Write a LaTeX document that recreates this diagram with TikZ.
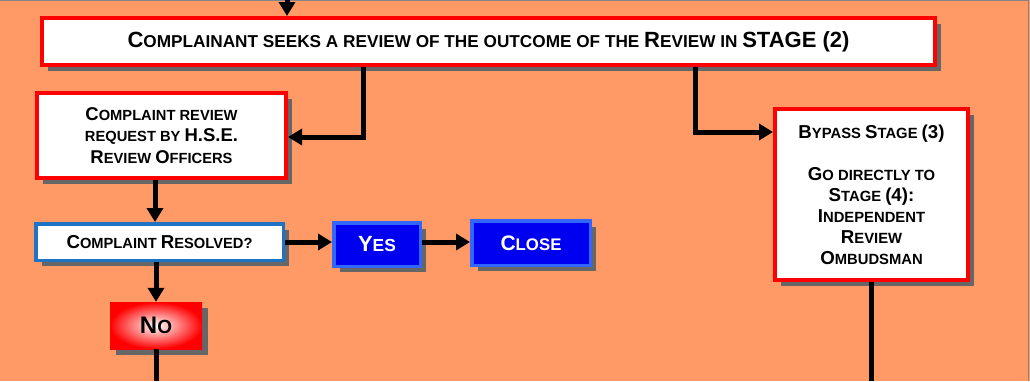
\documentclass[tikz,border=0pt]{standalone}
\usepackage{fontspec}
\setmainfont{Liberation Sans}
\usetikzlibrary{arrows.meta,shadows}
\definecolor{bg}{HTML}{FF9966}
\definecolor{shadowgray}{HTML}{666666}
\definecolor{rb}{HTML}{FF0000}
\definecolor{qblue}{HTML}{1F73C4}
\definecolor{bfill}{HTML}{0000F0}
\definecolor{bborder}{HTML}{3366FF}
\def\bigsz{16}
\newcommand\U[1]{{\fontsize{\bigsz}{21}\selectfont #1}}
\tikzset{
  shad/.style={drop shadow={shadow xshift=6pt, shadow yshift=-6pt, fill=shadowgray, opacity=1}},
  redbox/.style={draw=rb, line width=4pt, fill=white, inner sep=0pt, align=center, shad},
  qbox/.style={draw=qblue, line width=3.5pt, fill=white, inner sep=0pt, align=center, shad},
  bluebox/.style={draw=bborder, line width=3.5pt, fill=bfill, text=white, inner sep=0pt, align=center, shad},
  nobox/.style={inner sep=0pt, align=center, shad, shading=radial, inner color=white, outer color=rb},
  conn/.style={line width=5pt, -{Triangle[length=14pt,width=16pt]}},
  plain/.style={line width=5pt},
}
\begin{document}
\begin{tikzpicture}[x=1pt,y=-1pt]
\useasboundingbox (0,0) rectangle (1030,381);
\fill[bg] (0,0) rectangle (1030,381);
\draw[shadowgray!80, line width=1.2pt] (0,0.6) -- (1028.4,0.6) -- (1028.4,381);

\node[redbox, minimum width=893pt, minimum height=47pt,
  font={\def\bigsz{22}\bfseries\fontsize{17.2}{21}\selectfont}] (top) at (488.5,41.5)
  {\U{C}OMPLAINANT SEEKS A REVIEW OF THE OUTCOME OF THE \U{R}EVIEW IN \U{STAGE (2)}};

\node[redbox, minimum width=249pt, minimum height=85pt,
  font={\def\bigsz{18.5}\bfseries\fontsize{14.7}{21.5}\selectfont}] (b2) at (161.5,135.5)
  {\U{C}OMPLAINT REVIEW\\ REQUEST BY \U{H.S.E.}\\ \U{R}EVIEW \U{O}FFICERS};

\node[qbox, minimum width=247.5pt, minimum height=36.5pt,
  font={\def\bigsz{18.7}\bfseries\fontsize{14.7}{21}\selectfont}] (b3) at (159.5,242)
  {\U{C}OMPLAINT \U{R}ESOLVED?};

\node[bluebox, minimum width=86.5pt, minimum height=43.5pt,
  font={\def\bigsz{22}\bfseries\fontsize{17.4}{21}\selectfont}] (yes) at (377,244.5)
  {\U{Y}ES};

\node[bluebox, minimum width=118.5pt, minimum height=44.5pt,
  font={\def\bigsz{21}\bfseries\fontsize{16.8}{21}\selectfont}] (close) at (531,243)
  {\U{C}LOSE};

\node[nobox, minimum width=92pt, minimum height=47pt,
  font={\def\bigsz{24}\bfseries\fontsize{19}{21}\selectfont}] (no) at (156,325.5)
  {\U{N}O};

\node[redbox, minimum width=193pt, minimum height=171pt,
  font={\def\bigsz{18.7}\bfseries\fontsize{14.8}{21}\selectfont}] (bp) at (871.5,194.5)
  {\U{B}YPASS \U{S}TAGE \U{(3)}\\[21pt] \U{G}O DIRECTLY TO\\ \U{S}TAGE \U{(4):}\\ \U{I}NDEPENDENT\\ \U{R}EVIEW\\ \U{O}MBUDSMAN};

\coordinate (in) at (287,0);
\coordinate (j1) at (363,137);
\coordinate (j2) at (695,132);
\coordinate (v1) at (155,0);
\coordinate (v2) at (156,0);
\coordinate (bot1) at (156,381);
\coordinate (bot2) at (871,381);

\draw[conn] (in) -- (in |- top.north);
\draw[conn] (j1 |- top.south) -- (j1) -- (j1 -| b2.east);
\draw[conn] (j2 |- top.south) -- (j2) -- (j2 -| bp.west);
\draw[conn] (v1 |- b2.south) -- (v1 |- b3.north);
\draw[conn] (b3.east) -- (b3.east -| yes.west);
\draw[conn] (yes.east |- b3.east) -- (b3.east -| close.west);
\draw[conn] (v2 |- b3.south) -- (v2 |- no.north);
\draw[plain] (no.south) -- (bot1);
\draw[plain] (bot2 |- bp.south) -- (bot2);
\end{tikzpicture}
\end{document}
